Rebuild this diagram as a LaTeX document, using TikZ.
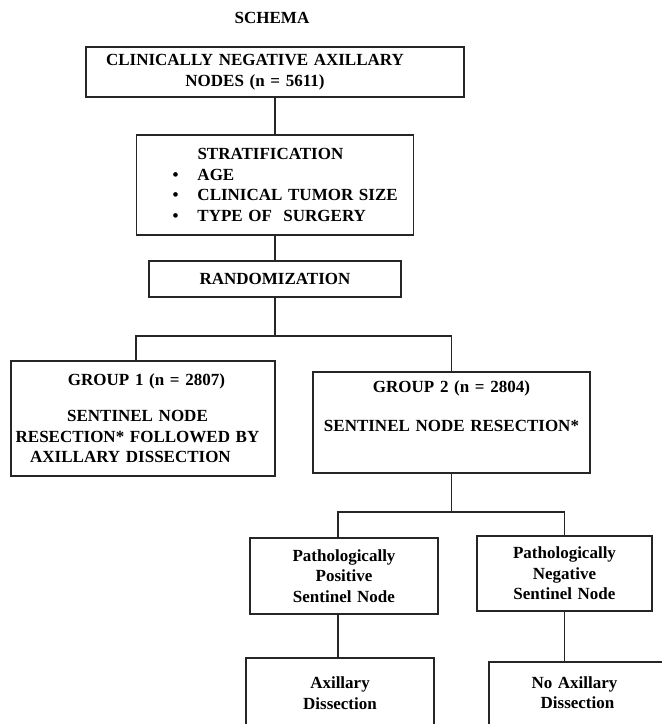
\documentclass[tikz,border=0pt]{standalone}
\usepackage{fontspec}
\setmainfont{Liberation Serif}
\usetikzlibrary{positioning}

\tikzset{
  boxtext/.style={font=\fontsize{17}{20.5}\selectfont\bfseries},
  box/.style={boxtext, draw=black!85, line width=1.1pt, inner sep=0pt},
  link/.style={draw=black!85, line width=1.1pt}
}

\begin{document}
\begin{tikzpicture}[x=1pt,y=-1pt]
\useasboundingbox (0,0) rectangle (662,724);
\clip (0,0) rectangle (662,724);
\node[boxtext] (title) at (272,18) {SCHEMA};
\node[box, text width=378pt, minimum height=50pt, align=center] (nodes) at (275,72)
  {CLINICALLY NEGATIVE AXILLARY\rule{40pt}{0pt}\\NODES (n = 5611)\rule{40pt}{0pt}};
\node[box, text width=277pt, minimum height=100pt, align=left] (strat) at (275,185)
  {\hspace*{61pt}STRATIFICATION\\
   \hspace*{36pt}\makebox[25pt][l]{\textbullet}AGE\\
   \hspace*{36pt}\makebox[25pt][l]{\textbullet}CLINICAL TUMOR SIZE\\
   \hspace*{36pt}\makebox[25pt][l]{\textbullet}TYPE OF~~SURGERY};
\node[box, minimum width=252pt, minimum height=36pt] (rand) at (275,279) {RANDOMIZATION};
\coordinate (fork1) at (275,336);
\node[box, text width=264pt, minimum height=115pt, align=center] (grp1) at (143,418.5)
  {\rule{7pt}{0pt}GROUP 1 (n = 2807)\\[15.5pt]
   SENTINEL NODE\rule{11pt}{0pt}\\
   RESECTION* FOLLOWED BY\rule{11pt}{0pt}\\
   AXILLARY DISSECTION\rule{25pt}{0pt}};
\node[box, text width=277pt, minimum height=101pt, align=center] (grp2) at (451.5,422.5)
  {GROUP 2 (n = 2804)\\[18.5pt]SENTINEL NODE RESECTION*\rule[-32pt]{0pt}{32pt}};
\coordinate (fork2) at (451.5,512);
\node[box, text width=188pt, minimum height=76pt, align=center] (pos) at (344,576)
  {Pathologically\\Positive\\Sentinel Node};
\node[box, text width=175pt, minimum height=75pt, align=center] (neg) at (564.5,573.5)
  {Pathologically\\Negative\\Sentinel Node};
\node[box, text width=188pt, minimum height=70pt, align=center] (axdis) at (340,693)
  {Axillary\\Dissection};
\node[box, text width=183pt, minimum height=78pt, align=center] (noax) at (580.5,701)
  {No Axillary\rule{12pt}{0pt}\\Dissection\rule{6pt}{0pt}\rule[-17pt]{0pt}{17pt}};
% connectors
\draw[link] (nodes) -- (strat);
\draw[link] (strat) -- (rand);
\draw[link] (rand) -- (fork1);
\draw[link] (fork1) -| ([xshift=-7pt]grp1.north);
\draw[link] (fork1) -| (grp2.north);
\draw[link] (grp2) -- (fork2);
\draw[link] (fork2) -| ([xshift=-6pt]pos.north);
\draw[link] (fork2) -| (neg.north);
\draw[link] ([xshift=-6pt]pos.south) -- ([xshift=-6pt]pos.south |- axdis.north);
\draw[link] (neg.south) -- (neg.south |- noax.north);
\end{tikzpicture}
\end{document}
